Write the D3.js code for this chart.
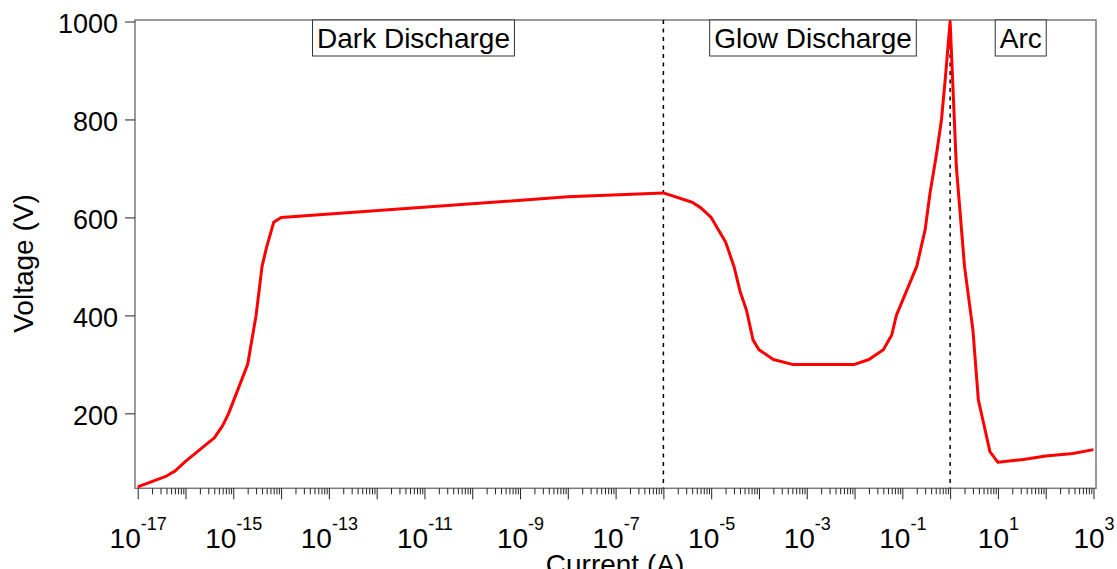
<!DOCTYPE html>
<html>
<head>
<meta charset="utf-8">
<script src="https://cdn.jsdelivr.net/npm/d3@7/dist/d3.min.js"></script>
<style>
  html, body { margin: 0; padding: 0; background: #fff; }
  svg { display: block; font-family: "Liberation Sans", Arial, Helvetica, sans-serif; }
</style>
</head>
<body>
<svg id="chart" width="1117" height="569"></svg>
<script>
// Gas discharge voltage-current characteristic
const currentA = [
  1e-17, 4e-17, 6e-17, 1e-16, 4e-16, 6e-16, 8e-16, 2e-15, 3e-15, 4e-15, 5e-15, 7e-15, 1e-14,
  1e-8, 1e-6, 4e-6, 6e-6, 1e-5, 2e-5, 3e-5, 4e-5, 5.5e-5, 7.5e-5, 1e-4, 2e-4, 5e-4,
  1e-2, 2e-2, 4e-2, 6e-2, 7.5e-2, 0.2, 0.3, 0.38, 0.52, 0.66, 0.8, 1,
  1.35, 2, 3, 3.9, 5.4, 6.8, 10, 34, 100, 370, 1000
];
const voltageV = [
  50, 72, 82, 102, 150, 175, 200, 300, 400, 500, 540, 590, 600,
  642, 650, 631, 620, 600, 550, 500, 450, 410, 350, 330, 310, 300,
  300, 310, 330, 360, 400, 500, 575, 650, 730, 800, 888, 1000,
  703, 500, 370, 227, 166, 122, 100, 106, 113, 118, 126
];

// Regime boundaries (A) and regime names placed along the current axis
const boundaries = [1e-6, 1];
const regimeNames = ["Dark Discharge", "Glow Discharge", "Arc"];
const regimeAt = [5.9e-12, 1.35e-3, 30];

const yTicks = [200, 400, 600, 800, 1000];
const exponents = d3.range(-17, 4);          // every decade gets a major tick
const labelledExponents = exponents.filter(e => Math.abs(e % 2) === 1);

const svg = d3.select("#chart");
const frame = { left: 135, right: 1096, top: 20, bottom: 488.3 };

const x = d3.scaleLog().domain([1e-17, 1e3]).range([137.7, 1093.5]);
const y = d3.scaleLinear().domain([47, 1000]).range([488.3, 21.5]);

// minor ticks 2..9 inside each decade
const minorTicks = [];
exponents.slice(0, -1).forEach(e => {
  for (let k = 2; k <= 9; k++) minorTicks.push(k * Math.pow(10, e));
});
const majorTicks = exponents.map(e => Math.pow(10, e));

// frame
svg.append("rect")
  .attr("x", frame.left).attr("y", frame.top)
  .attr("width", frame.right - frame.left).attr("height", frame.bottom - frame.top)
  .attr("fill", "none").attr("stroke", "#7a7a7a").attr("stroke-width", 1.5);

// x axis: minor ticks
const xMinor = svg.append("g").attr("transform", `translate(0,${frame.bottom})`)
  .call(d3.axisBottom(x).tickValues(minorTicks).tickSize(6).tickFormat(""));
// x axis: major ticks
const xMajor = svg.append("g").attr("transform", `translate(0,${frame.bottom})`)
  .call(d3.axisBottom(x).tickValues(majorTicks).tickSize(11).tickFormat(""));
[xMinor, xMajor].forEach(g => {
  g.select(".domain").remove();
  g.selectAll(".tick line").attr("stroke", "#222").attr("stroke-width", 1);
});

// power-of-ten labels on odd decades
xMajor.selectAll(".tick")
  .filter(d => labelledExponents.includes(Math.round(Math.log10(d))))
  .append("text")
  .attr("y", 60)
  .attr("fill", "#000")
  .attr("text-anchor", "middle")
  .attr("font-size", 28)
  .each(function (d) {
    const t = d3.select(this);
    t.append("tspan").text("10");
    t.append("tspan")
      .attr("dy", -18)
      .attr("font-size", 18)
      .text(String(Math.round(Math.log10(d))));
  });

// y axis
const yAxis = svg.append("g").attr("transform", `translate(${frame.left},0)`)
  .call(d3.axisLeft(y).tickValues(yTicks).tickFormat(d3.format("d")).tickSize(10).tickPadding(7));
yAxis.select(".domain").remove();
yAxis.selectAll(".tick line").attr("stroke", "#222").attr("stroke-width", 1);
yAxis.selectAll(".tick text")
  .attr("font-size", 27)
  .attr("font-family", "Liberation Sans, Arial, sans-serif")
  .attr("fill", "#000")
  .attr("dy", "0.41em");

// regime boundaries
svg.append("g").selectAll("line")
  .data(boundaries)
  .join("line")
  .attr("x1", d => x(d)).attr("x2", d => x(d))
  .attr("y1", frame.top).attr("y2", frame.bottom)
  .attr("stroke", "#000").attr("stroke-width", 1.5)
  .attr("stroke-dasharray", "4,4.5");

// characteristic curve
const line = d3.line()
  .x((d, i) => x(currentA[i]))
  .y(d => y(d));
svg.append("path")
  .datum(voltageV)
  .attr("d", line)
  .attr("fill", "none")
  .attr("stroke", "#ff0000")
  .attr("stroke-width", 3)
  .attr("stroke-linejoin", "round");

// regime name boxes
const labels = svg.append("g").selectAll("g")
  .data(regimeNames)
  .join("g")
  .attr("transform", (d, i) => `translate(${x(regimeAt[i])},0)`);
labels.append("text")
  .attr("y", 47.5)
  .attr("text-anchor", "middle")
  .attr("font-size", 28)
  .attr("fill", "#000")
  .text(d => d);
labels.each(function () {
  const g = d3.select(this);
  const bb = g.select("text").node().getBBox();
  g.insert("rect", "text")
    .attr("x", bb.x - 4.5).attr("width", bb.width + 9)
    .attr("y", 20).attr("height", 36)
    .attr("fill", "#fff").attr("stroke", "#333").attr("stroke-width", 1);
});

// axis titles
svg.append("text")
  .attr("transform", "translate(33,263.5) rotate(-90)")
  .attr("text-anchor", "middle")
  .attr("font-size", 28)
  .text("Voltage (V)");
svg.append("text")
  .attr("x", 615).attr("y", 574)
  .attr("text-anchor", "middle")
  .attr("font-size", 28)
  .text("Current (A)");
</script>
</body>
</html>
